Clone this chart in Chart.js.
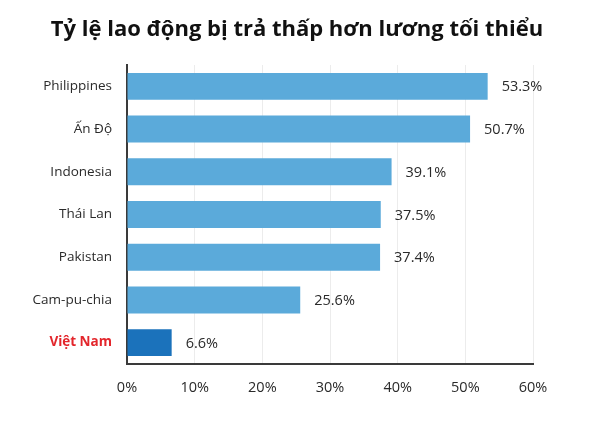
<!DOCTYPE html>
<html>
<head>
<meta charset="utf-8">
<script src="https://cdn.jsdelivr.net/npm/chart.js@4/dist/chart.umd.min.js"></script>
<style>
  html, body { margin: 0; padding: 0; background: #fff; }
  #wrap { width: 600px; height: 422px; }
</style>
</head>
<body>
<div id="wrap"><canvas id="chart" width="600" height="422"></canvas></div>
<script>
// Data
const countries = ['Philippines', 'Ấn Độ', 'Indonesia', 'Thái Lan', 'Pakistan', 'Cam-pu-chia', 'Việt Nam'];
const shares = [53.3, 50.7, 39.1, 37.5, 37.4, 25.6, 6.6];
const xTicks = [0, 10, 20, 30, 40, 50, 60];
const chartTitle = 'Tỷ lệ lao động bị trả thấp hơn lương tối thiểu';

const barColors = countries.map(c => c === 'Việt Nam' ? '#1b72bb' : '#5baada');
const labelColors = countries.map(c => c === 'Việt Nam' ? '#e3262c' : '#2a2a2a');

// title across the whole canvas (built-in title would centre inside the padding)
const topTitle = {
    id: 'topTitle',
    afterDraw(chart) {
        const ctx = chart.ctx;
        ctx.save();
        ctx.font = 'bold 22px "Open Sans", sans-serif';
        ctx.fillStyle = '#111';
        ctx.textAlign = 'center';
        ctx.textBaseline = 'middle';
        ctx.fillText(chartTitle, 297, 30);
        ctx.restore();
    }
};

// draws the "53.3%" style labels next to each bar
const valueLabels = {
    id: 'valueLabels',
    afterDatasetsDraw(chart) {
        const ctx = chart.ctx;
        const meta = chart.getDatasetMeta(0);
        ctx.save();
        ctx.font = '14.5px "Open Sans", sans-serif';
        ctx.fillStyle = '#2a2a2a';
        ctx.textAlign = 'left';
        ctx.textBaseline = 'middle';
        meta.data.forEach((bar, i) => {
            ctx.fillText(shares[i].toFixed(1) + '%', bar.x + 14, bar.y + 1);
        });
        ctx.restore();
    }
};

new Chart(document.getElementById('chart'), {
    type: 'bar',
    data: {
        labels: countries,
        datasets: [{
            data: shares,
            backgroundColor: barColors,
            borderWidth: 0,
            barPercentage: 0.9,
            categoryPercentage: 0.7
        }]
    },
    options: {
        indexAxis: 'y',
        responsive: false,
        animation: false,
        layout: { padding: { left: 0, right: 67, top: 65, bottom: 0 } },
        plugins: {
            legend: { display: false },
            tooltip: { enabled: false },
            title: { display: false }
        },
        scales: {
            x: {
                min: 0,
                max: 60,
                afterBuildTicks: (scale) => { scale.ticks = xTicks.map(v => ({ value: v })); },
                afterFit: (scale) => { scale.height = 58; },
                ticks: {
                    callback: (v) => v + '%',
                    color: '#2a2a2a',
                    font: { family: '"Open Sans", sans-serif', size: 14.5 },
                    padding: 15
                },
                grid: { color: '#ececec', lineWidth: 1, drawTicks: false },
                border: { color: '#3a3a3a', width: 2 }
            },
            y: {
                afterFit: (scale) => { scale.width = 127; },
                ticks: {
                    color: labelColors,
                    font: (ctx) => ({
                        family: '"Open Sans", sans-serif',
                        size: 13.5,
                        weight: countries[ctx.index] === 'Việt Nam' ? 'bold' : 'normal'
                    }),
                    padding: 15
                },
                grid: { display: false, drawTicks: false },
                border: { color: '#3a3a3a', width: 2 }
            }
        }
    },
    plugins: [valueLabels, topTitle]
});
</script>
</body>
</html>
